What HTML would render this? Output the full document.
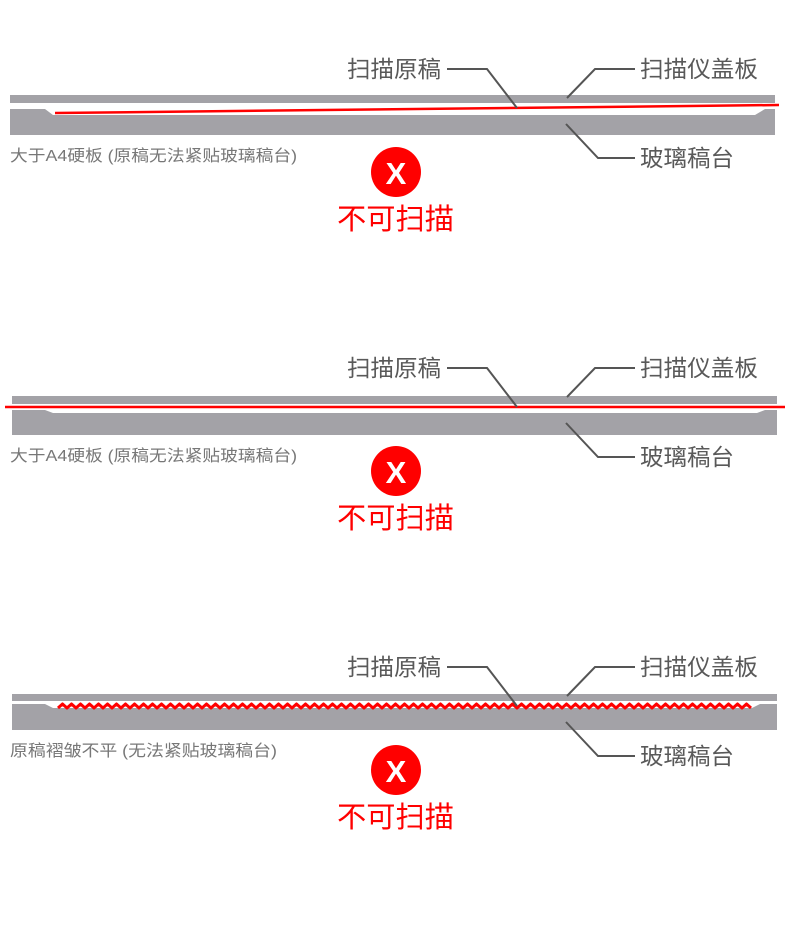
<!DOCTYPE html>
<html><head><meta charset="utf-8"><style>
body{margin:0;background:#fff;}
svg{display:block;}
text{font-family:"Liberation Sans","Noto Sans CJK SC",sans-serif;}
</style></head><body>
<svg width="790" height="940" viewBox="0 0 790 940" xmlns="http://www.w3.org/2000/svg">
<defs>
<g id="labels">
  <text x="347" y="77" font-size="23" fill="#595959" textLength="94" lengthAdjust="spacingAndGlyphs">扫描原稿</text>
  <text x="640" y="77" font-size="23" fill="#595959" textLength="118" lengthAdjust="spacingAndGlyphs">扫描仪盖板</text>
  <text x="640" y="166" font-size="23" fill="#595959" textLength="94" lengthAdjust="spacingAndGlyphs">玻璃稿台</text>
  <polyline points="447,69 487,69 517,108" fill="none" stroke="#555" stroke-width="2"/>
  <polyline points="635,69 595,69 567,98" fill="none" stroke="#555" stroke-width="2"/>
  <polyline points="635,158 598,158 566,124" fill="none" stroke="#555" stroke-width="2"/>
  <circle cx="396" cy="172" r="25" fill="#f00"/>
  <text x="396" y="184" font-size="31" font-weight="bold" fill="#fff" text-anchor="middle">X</text>
  <text x="337" y="229" font-size="29" fill="#f00" textLength="117" lengthAdjust="spacingAndGlyphs">不可扫描</text>
</g>
</defs>

<!-- Panel 1 -->
<rect x="10" y="95" width="765" height="8" fill="#a3a2a7"/>
<path d="M10,109 L45,109 L53,115 L755,115 L765,109 L775,109 L775,135 L10,135 Z" fill="#a3a2a7"/>
<line x1="55" y1="113" x2="779" y2="105" stroke="#f00" stroke-width="2.5"/>
<text x="10" y="161" font-size="16" fill="#777" textLength="287" lengthAdjust="spacingAndGlyphs">大于A4硬板 (原稿无法紧贴玻璃稿台)</text>
<use href="#labels"/>

<!-- Panel 2 -->
<g transform="translate(0,299)">
<rect x="12" y="97" width="765" height="8" fill="#a3a2a7"/>
<path d="M12,111 L45,111 L53,114 L757,114 L765,111 L777,111 L777,136 L12,136 Z" fill="#a3a2a7"/>
<line x1="5" y1="108" x2="785" y2="108" stroke="#f00" stroke-width="2.5"/>
<text x="10" y="162" font-size="16" fill="#777" textLength="287" lengthAdjust="spacingAndGlyphs">大于A4硬板 (原稿无法紧贴玻璃稿台)</text>
<use href="#labels"/>
</g>

<!-- Panel 3 -->
<g transform="translate(0,598)">
<rect x="12" y="96" width="765" height="7" fill="#a3a2a7"/>
<path d="M12,106 L45,106 L53,110 L752,110 L760,106 L777,106 L777,132 L12,132 Z" fill="#a3a2a7"/>
<polyline fill="none" stroke="#f00" stroke-width="3" stroke-linejoin="round" points="58,110 62.5,106 67,110 71.5,106 76,110 80.5,106 85,110 89.5,106 94,110 98.5,106 103,110 107.5,106 112,110 116.5,106 121,110 125.5,106 130,110 134.5,106 139,110 143.5,106 148,110 152.5,106 157,110 161.5,106 166,110 170.5,106 175,110 179.5,106 184,110 188.5,106 193,110 197.5,106 202,110 206.5,106 211,110 215.5,106 220,110 224.5,106 229,110 233.5,106 238,110 242.5,106 247,110 251.5,106 256,110 260.5,106 265,110 269.5,106 274,110 278.5,106 283,110 287.5,106 292,110 296.5,106 301,110 305.5,106 310,110 314.5,106 319,110 323.5,106 328,110 332.5,106 337,110 341.5,106 346,110 350.5,106 355,110 359.5,106 364,110 368.5,106 373,110 377.5,106 382,110 386.5,106 391,110 395.5,106 400,110 404.5,106 409,110 413.5,106 418,110 422.5,106 427,110 431.5,106 436,110 440.5,106 445,110 449.5,106 454,110 458.5,106 463,110 467.5,106 472,110 476.5,106 481,110 485.5,106 490,110 494.5,106 499,110 503.5,106 508,110 512.5,106 517,110 521.5,106 526,110 530.5,106 535,110 539.5,106 544,110 548.5,106 553,110 557.5,106 562,110 566.5,106 571,110 575.5,106 580,110 584.5,106 589,110 593.5,106 598,110 602.5,106 607,110 611.5,106 616,110 620.5,106 625,110 629.5,106 634,110 638.5,106 643,110 647.5,106 652,110 656.5,106 661,110 665.5,106 670,110 674.5,106 679,110 683.5,106 688,110 692.5,106 697,110 701.5,106 706,110 710.5,106 715,110 719.5,106 724,110 728.5,106 733,110 737.5,106 742,110 746.5,106 751,110"/>
<text x="10" y="158" font-size="16" fill="#777" textLength="267" lengthAdjust="spacingAndGlyphs">原稿褶皱不平 (无法紧贴玻璃稿台)</text>
<use href="#labels"/>
</g>
</svg>
</body></html>
